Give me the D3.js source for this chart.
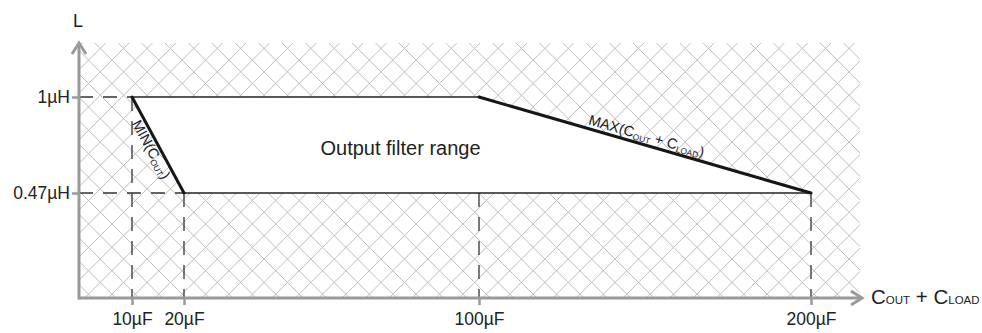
<!DOCTYPE html>
<html><head><meta charset="utf-8">
<script src="https://cdn.jsdelivr.net/npm/d3@7"></script>
<style>body{margin:0;background:#fff;} svg{display:block;font-family:"Liberation Sans",Arial,Helvetica,sans-serif;}</style>
</head><body><svg id="c" width="982" height="333"></svg>
<script>
// ---- data ----
const xTicks = [10, 20, 100, 200];
const xTickLabels = ["10µF", "20µF", "100µF", "200µF"];
const yTicks = [0.47, 1];
const yTickLabels = ["0.47µH", "1µH"];
const minCoutEdge = [{c: 10, l: 1}, {c: 20, l: 0.47}];
const maxTotalEdge = [{c: 100, l: 1}, {c: 200, l: 0.47}];
const upperBound = [{c: 10, l: 1}, {c: 100, l: 1}];
const lowerBound = [{c: 20, l: 0.47}, {c: 200, l: 0.47}];
const filterRegion = [{c: 10, l: 1}, {c: 100, l: 1}, {c: 200, l: 0.47}, {c: 20, l: 0.47}];

// ---- layout ----
const svg = d3.select("#c");
const x0 = 79, y0 = 298, xEnd = 862, yTop = 43, hatchRight = 860;
const x = d3.scaleLinear().domain([0, 10, 20, 100, 200]).range([x0, 132, 184, 479, 811]);
const y = d3.scaleLinear().domain([0, 0.47, 1]).range([y0, 193, 97]);
const axisCol = "#9a9a9a", ink = "#222";

// ---- hatch background ----
const defs = svg.append("defs");
defs.append("clipPath").attr("id", "hclip").append("rect")
  .attr("x", x0).attr("y", yTop).attr("width", hatchRight - x0).attr("height", y0 - yTop);
const P = 23.4;
const hg = svg.append("g").attr("clip-path", "url(#hclip)")
  .attr("stroke", "#bdbdbd").attr("stroke-width", 1).attr("fill", "none");
const ya = yTop - 10, yb = y0 + 10;
function seq(phase, lo, hi) {
  const s = phase + P * Math.ceil((lo - phase) / P);
  return d3.range(s, hi, P);
}
seq(5, x0 - y0 - 2 * P, hatchRight - yTop + 2 * P).forEach(c => {
  hg.append("line").attr("x1", c + ya).attr("y1", ya).attr("x2", c + yb).attr("y2", yb);
});
seq(8.3, x0 + yTop - 2 * P, hatchRight + y0 + 2 * P).forEach(c => {
  hg.append("line").attr("x1", c - ya).attr("y1", ya).attr("x2", c - yb).attr("y2", yb);
});

// ---- white region ----
svg.append("path")
  .attr("d", d3.line().x(d => x(d.c)).y(d => y(d.l))(filterRegion) + "Z")
  .attr("fill", "#fff");

// ---- dashed guides ----
const dg = svg.append("g").attr("stroke", "#333").attr("stroke-width", 1.3)
  .attr("stroke-dasharray", "14,10").attr("fill", "none");
dg.append("line").attr("x1", x0).attr("x2", x(minCoutEdge[0].c))
  .attr("y1", y(minCoutEdge[0].l)).attr("y2", y(minCoutEdge[0].l));
dg.append("line").attr("x1", x0).attr("x2", x(lowerBound[0].c))
  .attr("y1", y(lowerBound[0].l)).attr("y2", y(lowerBound[0].l));
[minCoutEdge[0], minCoutEdge[1], maxTotalEdge[0], maxTotalEdge[1]].forEach(d => {
  const top = d.c === maxTotalEdge[0].c ? y(lowerBound[0].l) : y(d.l);
  dg.append("line").attr("x1", x(d.c)).attr("x2", x(d.c)).attr("y1", top).attr("y2", y0);
});

// ---- axes ----
const xa = svg.append("g").attr("transform", `translate(0,${y0})`)
  .call(d3.axisBottom(x).tickValues(xTicks).tickFormat((d, i) => xTickLabels[i]).tickSize(7).tickPadding(8));
const ya2 = svg.append("g").attr("transform", `translate(${x0},0)`)
  .call(d3.axisLeft(y).tickValues(yTicks).tickFormat((d, i) => yTickLabels[i]).tickSize(7).tickPadding(2));
[xa, ya2].forEach(g => {
  g.select(".domain").remove();
  g.selectAll(".tick line").attr("stroke", axisCol).attr("stroke-width", 2.5);
  g.selectAll(".tick text").attr("fill", ink).attr("font-size", 17.5)
    .attr("font-family", "Liberation Sans, Arial, sans-serif");
});
const ag = svg.append("g").attr("stroke", axisCol).attr("stroke-width", 3).attr("fill", "none")
  .attr("stroke-linecap", "butt").attr("stroke-linejoin", "miter");
ag.append("line").attr("x1", x0).attr("y1", y0).attr("x2", xEnd - 1).attr("y2", y0);
ag.append("line").attr("x1", x0).attr("y1", y0 + 1.5).attr("x2", x0).attr("y2", yTop + 1);
ag.append("path").attr("d", `M${xEnd - 11},${y0 - 7}L${xEnd},${y0}L${xEnd - 11},${y0 + 7}`);
ag.append("path").attr("d", `M${x0 - 7},${yTop + 11}L${x0},${yTop}L${x0 + 7},${yTop + 11}`);

// ---- boundary lines ----
const line = d3.line().x(d => x(d.c)).y(d => y(d.l));
[upperBound, lowerBound].forEach(b => svg.append("path").attr("d", line(b))
  .attr("stroke", ink).attr("stroke-width", 1.5).attr("fill", "none"));
[minCoutEdge, maxTotalEdge].forEach(b => svg.append("path").attr("d", line(b))
  .attr("stroke", "#161616").attr("stroke-width", 3).attr("fill", "none").attr("stroke-linecap", "round"));

// ---- labels ----
svg.append("text").attr("x", 73).attr("y", 27).attr("font-size", 18).attr("fill", ink).text("L");
svg.append("text").attr("x", 400.5).attr("y", 155).attr("text-anchor", "middle")
  .attr("font-size", 20).attr("fill", ink).text("Output filter range");

const xl = svg.append("text").attr("x", 871).attr("y", 304).attr("font-size", 20.5).attr("fill", ink);
xl.append("tspan").text("C");
xl.append("tspan").attr("font-size", 11.5).text("OUT");
xl.append("tspan").text(" + C");
xl.append("tspan").attr("font-size", 11.5).text("LOAD");

function slopeLabel(edge, along, off, parts) {
  const ax = x(edge[0].c), ay = y(edge[0].l), bx = x(edge[1].c), by = y(edge[1].l);
  const ang = Math.atan2(by - ay, bx - ax) * 180 / Math.PI;
  const t = svg.append("text").attr("transform", `translate(${ax},${ay}) rotate(${ang})`)
    .attr("x", along).attr("y", off).attr("font-size", 14.5).attr("fill", ink);
  parts.forEach(p => {
    const s = t.append("tspan").text(p[0]);
    if (p[1]) s.attr("font-size", 8.5).attr("dy", 2);
    else if (p[2]) s.attr("dy", -2);
  });
}
slopeLabel(minCoutEdge, 23, 13, [["MIN(C"], ["OUT", true], [")", false, true]]);
slopeLabel(maxTotalEdge, 112, -4, [["MAX(C"], ["OUT", true], [" + C", false, true], ["LOAD", true], [")", false, true]]);
</script></body></html>
